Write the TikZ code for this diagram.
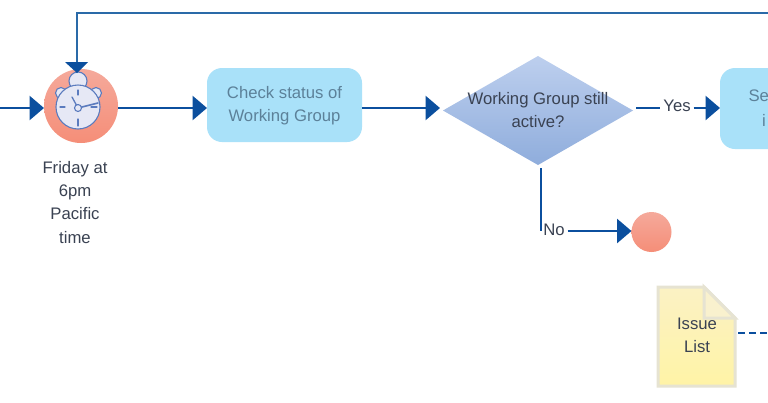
\documentclass[tikz,border=0pt]{standalone}
\usepackage{fontspec}
\setmainfont{Liberation Sans}
\usetikzlibrary{arrows.meta,shapes.geometric}
\definecolor{flowblue}{HTML}{0B4F9E}
\definecolor{looplink}{HTML}{2A6AA8}
\definecolor{taskfill}{HTML}{A9E1F9}
\definecolor{tasktext}{HTML}{5C8199}
\definecolor{labeltext}{HTML}{3A4252}
\definecolor{watchline}{HTML}{5B7BBE}
\definecolor{watchface}{HTML}{E6E8F5}
\definecolor{eventtop}{HTML}{F5A99B}
\definecolor{eventbottom}{HTML}{F58E78}
\definecolor{gatetop}{HTML}{BDCFEE}
\definecolor{gatebottom}{HTML}{8FADDC}
\definecolor{noteedge}{HTML}{E6E3D2}
\definecolor{notetop}{HTML}{FBF2C4}
\definecolor{notebottom}{HTML}{FFF3A6}
\definecolor{notefold}{HTML}{F9F1CE}
\tikzset{
  x=1pt,y=-1pt,
  every node/.style={font=\fontsize{16.7}{23.3}\selectfont,text=labeltext,align=center,inner sep=0pt,outer sep=0pt},
  flow/.style={draw=flowblue,line width=2.8pt,-{Triangle[length=14.5pt,width=24pt]}},
  plainflow/.style={draw=flowblue,line width=2.8pt},
  loopflow/.style={draw=looplink,line width=1.8pt},
  task/.style={rounded corners=15pt,fill=taskfill,text=tasktext},
  eventred/.style={circle,top color=eventtop,bottom color=eventbottom},
  watchpart/.style={draw=watchline,line width=1.1pt,fill=watchface},
  watchmark/.style={draw=watchline,line width=1.3pt,line cap=round}
}
\begin{document}
\begin{tikzpicture}
\useasboundingbox (0,0) rectangle (768,402);
\clip (0,0) rectangle (768,402);
\fill[white] (0,0) rectangle (768,402);

% Free ends of the connectors that leave the page, and the two flow rows
\coordinate (inleft) at (0,108);
\coordinate (loopright) at (768,13);
\coordinate (loopcorner) at (77,13);
\coordinate (loopdrop) at (77,64);
\coordinate (dashright) at (768,333);
\coordinate (mainrow) at (0,108);
\coordinate (norow) at (0,231);

% Timer start event
\node[eventred,minimum size=74pt] (timer) at (81,106) {};
\node[watchpart,circle,minimum size=11pt] (lugL) at (61,93) {};
\node[watchpart,circle,minimum size=11pt] (lugR) at (96,93) {};
\node[watchpart,circle,minimum size=18pt] (crown) at (78,81) {};
\node[watchpart,circle,minimum size=44pt] (face) at (78,107) {};
\draw[watchmark] (78,90) -- (78,95);
\draw[watchmark] (78,119) -- (78,126);
\draw[watchmark] (60,107) -- (65,107);
\draw[watchmark] (91,107) -- (97,107);
\draw[watchmark] (78,108) -- (72,97);
\draw[watchmark,line width=1.6pt] (78,108) -- (98,103);
\node[watchpart,circle,minimum size=7pt] (pivot) at (78,108) {};
\node[anchor=north] (timerlabel) at (75,161) {Friday at\\6pm\\Pacific\\time};

% Tasks and gateway
\node[task,minimum width=155pt,minimum height=74pt] (check) at (284.5,105) {\rule{0pt}{14pt}Check status of\\Working Group};
\node[diamond,aspect=1.743,minimum width=190pt,minimum height=109pt,
      top color=gatetop,bottom color=gatebottom] (gate) at (538,110.5) {};
\node (gatetext) at (538,110) {Working Group still\\active?};
\node[task,anchor=west,minimum width=120pt,minimum height=81pt] (send) at (720,108.5) {};
\node[anchor=west,text=tasktext] (sendA) at (748.5,96) {Se};
\node[text=tasktext] (sendB) at (764,120) {i};
\node (yes) at (677,106) {Yes};
\node (no) at (554,230) {No};
\node[eventred,minimum size=40pt] (endev) at (651.5,232) {};

% Issue list data object
\path[draw=noteedge,line width=3pt,top color=notetop,bottom color=notebottom]
  (658,287) -- (704,287) -- (735,318) -- (735,386) -- (658,386) -- cycle;
\path[draw=noteedge,line width=3pt,fill=notefold] (704,287) -- (704,318) -- (735,318) -- cycle;
\node (issue) at (697,335.5) {Issue\\List};
\coordinate (issueout) at (738,333);

% Connectors
\draw[flow] (inleft) -- (timer.west |- inleft);
\draw[flow] (timer.east |- mainrow) -- (check.west |- mainrow);
\draw[flow] (check.east |- mainrow) -- ([xshift=-3pt]gate.west |- mainrow);
\draw[plainflow] ([xshift=3pt]gate.east |- mainrow) -- ([xshift=-3pt]yes.west |- mainrow);
\draw[flow] ([xshift=3pt]yes.east |- mainrow) -- (send.west |- mainrow);
\draw[plainflow] ([xshift=3pt,yshift=-3pt]gate.south) -- ([xshift=3pt]gate.south |- norow);
\draw[flow] ([xshift=3pt]no.east |- norow) -- (endev.west |- norow);
\draw[loopflow] (loopright) -- (loopcorner) -- (loopdrop);
\fill[flowblue] (65,62) -- (88,62) -- (77,73) -- cycle;
\draw[flowblue,line width=2.4pt,dash pattern=on 7pt off 4pt] (issueout) -- (dashright);
\end{tikzpicture}
\end{document}
